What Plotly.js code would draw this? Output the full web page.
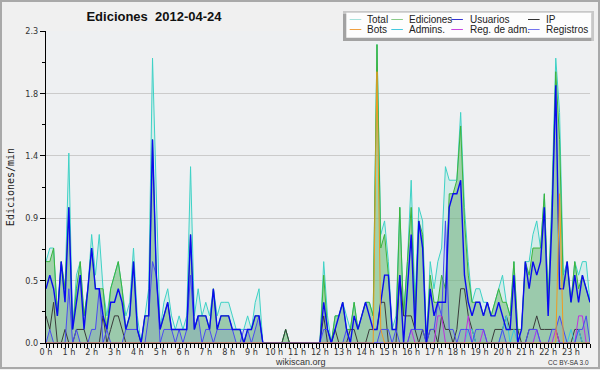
<!DOCTYPE html>
<html><head><meta charset="utf-8">
<script src="https://cdn.plot.ly/plotly-3.0.1.min.js"></script>
<style>
html,body{margin:0;padding:0;background:#f0f0f0}
#wrap{position:relative;width:600px;height:370px}
#chart{width:600px;height:370px}
#frame{position:absolute;left:0;top:0;width:600px;height:369px;box-sizing:border-box;border:2px solid #a9a9a9;pointer-events:none}
</style>
</head><body><div id="wrap"><div id="chart"></div><div id="frame"></div></div>
<script>
// Edits per minute, 10-minute bins, 2012-04-24 (144 bins)
const total = [
0.6,0.7,0.7,0.2,0.6,0.4,1.4,0.1,0.5,0.6,0.2,0.4,
0.8,0.5,0.8,0.4,0.2,0.4,0.5,0.6,0.4,0.2,0.3,0.7,
0.2,0,0.2,0.4,2.1,1.0,0.1,0.3,0.4,0.2,0.1,0.2,
0.1,0.2,1.3,0.2,0.4,0.2,0.3,0.2,0.4,0.2,0.3,0.3,
0.3,0.2,0.1,0.1,0.1,0.2,0.1,0.3,0.4,0,0,0,
0,0,0,0.1,0,0,0,0,0,0,0,0,
0,0.6,0.2,0,0.2,0.2,0.3,0.2,0.1,0.3,0.1,0.2,
0.3,0.3,0.2,2.2,0.8,0.9,0.6,0.1,0.2,1.0,0.2,0.6,
1.2,0.3,1.0,0.9,0,0.6,0.4,0.6,0.7,1.3,1.2,1.2,
1.2,1.7,1.0,0.6,0.3,0.4,0.4,0.3,0.3,0.2,0.3,0.4,
0.5,0.3,0.2,0.6,0.1,0.1,0.6,0.6,0.8,0.9,0.7,1.1,
0.3,1.1,2.1,1.7,0.5,0.6,0.3,0.6,0.5,0.6,0.6,0.3];
const ediciones = [
0.6,0.6,0.7,0.2,0.6,0.4,1.0,0.1,0.4,0.6,0.2,0.4,
0.7,0.4,0.4,0.4,0.1,0.4,0.5,0.6,0.4,0.1,0.2,0.6,
0.1,0,0.2,0.2,1.5,0.5,0.1,0.2,0.3,0.1,0.1,0.1,
0.1,0.1,0.8,0.1,0.2,0.2,0.2,0.1,0.4,0.1,0.2,0.2,
0.2,0.1,0.1,0.1,0,0.1,0.1,0.2,0.2,0,0,0,
0,0,0,0.1,0,0,0,0,0,0,0,0,
0,0.5,0.1,0,0.2,0.2,0.3,0.1,0.1,0.3,0.1,0.2,
0.3,0.3,0.2,2.2,0.7,0.8,0.5,0.1,0.1,1.0,0.2,0.6,
1.0,0.2,0.9,0.8,0,0.5,0.3,0.3,0.5,0.4,1.1,1.1,
1.2,1.6,0.9,0.5,0.3,0.3,0.3,0.2,0.3,0.2,0.3,0.4,
0.3,0.3,0.2,0.6,0.1,0.1,0.6,0.5,0.7,0.7,0.7,1.1,
0.3,1.0,2.0,1.5,0.4,0.6,0.3,0.6,0.4,0.5,0.4,0.3];
const usuarios = [
0.4,0.5,0.4,0.2,0.6,0.3,1.0,0.1,0.3,0.5,0.1,0.4,
0.7,0.4,0.4,0.2,0.1,0.3,0.3,0.4,0.3,0.1,0.2,0.6,
0.1,0,0.2,0.2,1.5,0.5,0.1,0.2,0.3,0.1,0.1,0.1,
0.1,0.1,0.8,0.1,0.2,0.2,0.2,0.1,0.4,0.1,0.2,0.2,
0.2,0.1,0.1,0.1,0,0.1,0.1,0.2,0.2,0,0,0,
0,0,0,0,0,0,0,0,0,0,0,0,
0,0.3,0.1,0,0.1,0.2,0.3,0.1,0,0.2,0.1,0.2,
0.3,0.2,0.1,0.1,0.3,0.5,0.5,0.1,0.1,0.5,0,0.4,
0.8,0.1,0.9,0.7,0,0.4,0.2,0.3,0.3,0.3,1.0,1.1,
1.1,1.2,0.5,0.3,0.2,0.3,0.3,0.2,0.3,0.2,0.2,0.3,
0.2,0.1,0.1,0.5,0,0.1,0.6,0.4,0.6,0.5,0.6,1.0,
0.2,0.9,1.9,0.4,0.4,0.6,0.3,0.5,0.3,0.5,0.4,0.3];
const ip = [
0.2,0.1,0.3,0,0,0.1,0,0,0.1,0.1,0.1,0,
0,0,0,0.2,0,0.1,0.2,0.2,0.1,0,0,0,
0,0,0,0,0,0,0,0,0,0,0,0,
0,0,0,0,0,0,0,0,0,0,0,0,
0,0,0,0,0,0,0,0,0,0,0,0,
0,0,0,0.1,0,0,0,0,0,0,0,0,
0,0.2,0,0,0.1,0,0,0,0.1,0.1,0,0,
0,0.1,0.1,0.1,0.3,0.3,0,0,0,0.5,0.2,0.2,
0.2,0.1,0,0.1,0,0.1,0.1,0,0.2,0.1,0.1,0,
0.1,0.4,0.4,0.2,0.1,0,0,0,0,0,0.1,0.1,
0.1,0.2,0.1,0.1,0.1,0,0,0.1,0.1,0.2,0.1,0.1,
0.1,0.1,0.1,0,0,0,0,0.1,0.1,0,0,0];
const bots = [
0,0,0,0,0,0,0,0,0,0,0,0,
0,0,0,0,0,0,0,0,0,0,0,0,
0,0,0,0,0,0,0,0,0,0,0,0,
0,0,0,0,0,0,0,0,0,0,0,0,
0,0,0,0,0,0,0,0,0,0,0,0,
0,0,0,0,0,0,0,0,0,0,0,0,
0,0,0,0,0,0,0,0,0,0,0,0,
0,0,0,2.0,0.1,0,0,0,0,0,0,0,
0,0,0,0,0,0,0,0,0,0,0,0,
0,0,0,0,0,0,0,0,0,0,0,0,
0,0,0,0,0,0,0,0,0,0,0,0,
0,0,0,1.1,0,0,0,0,0,0,0,0];
const admins = [
0,0,0,0,0,0,0,0,0,0,0,0,
0,0,0,0,0,0,0,0,0,0,0,0,
0,0,0,0,0,0,0,0,0,0,0,0,
0,0,0,0,0,0,0,0,0,0,0,0,
0,0,0,0,0,0,0,0,0,0,0,0,
0,0,0,0,0,0,0,0,0,0,0,0,
0,0,0,0,0,0,0,0,0,0,0,0,
0,0,0,0,0,0,0,0,0,0,0,0,
0,0,0,0,0,0,0,0,0,0,0,0,
0,0,0,0.1,0.1,0,0,0,0,0,0,0,
0.1,0.2,0,0.1,0,0,0,0,0,0.1,0,0,
0,0,0,0,0,0,0.1,0,0.1,0,0,0];
const regAdm = [
0,0,0,0,0,0,0,0,0,0,0,0,
0,0,0,0,0,0,0,0,0,0,0,0,
0,0,0,0,0,0,0,0,0,0,0,0,
0,0,0,0,0,0,0,0,0,0,0,0,
0,0,0,0,0,0,0,0,0,0,0,0,
0,0,0,0,0,0,0,0,0,0,0,0,
0,0,0,0,0,0,0,0,0,0,0,0,
0,0,0,0,0,0,0,0,0,0,0,0,
0.1,0,0,0,0,0,0,0.2,0.2,0,0,0,
0,0,0,0.2,0,0,0,0.1,0,0,0,0,
0,0,0,0,0,0,0,0,0,0.1,0,0,
0,0,0.1,0,0,0,0,0,0.2,0.2,0,0];
const registros = [
0,0.1,0,0,0,0,0.4,0,0.1,0,0,0,
0.1,0.1,0.4,0,0.1,0,0,0,0,0.1,0.1,0.1,
0.1,0,0,0.2,0.6,0.5,0,0.1,0.1,0.1,0,0.1,
0,0.1,0.5,0.1,0.2,0,0.1,0.1,0,0.1,0.1,0.1,
0.1,0.1,0,0,0.1,0.1,0,0.1,0.2,0,0,0,
0,0,0,0,0,0,0,0,0,0,0,0,
0,0.1,0.1,0,0,0,0,0.1,0,0,0,0,
0,0,0,0,0.1,0.1,0.1,0,0.1,0,0,0,
0.1,0.1,0.1,0.1,0,0.1,0.1,0.3,0.2,0.9,0.1,0.1,
0,0.1,0.1,0.1,0,0.1,0.1,0.1,0,0,0,0,
0.1,0,0,0,0,0,0,0.1,0.1,0.1,0,0,
0,0.1,0.1,0.2,0.1,0,0,0,0.1,0.1,0.2,0];

const hourLabels = ['0 h','1 h','2 h','3 h','4 h','5 h','6 h','7 h','8 h','9 h','10 h','11 h',
  '12 h','13 h','14 h','15 h','16 h','17 h','18 h','19 h','20 h','21 h','22 h','23 h'];
const yTickVals = [0, 0.46, 0.92, 1.38, 1.84, 2.3];
const yTickText = ['0.0','0.5','0.9','1.4','1.8','2.3'];
const yMinorVals = [0.23, 0.69, 1.15, 1.61, 2.07];
const legendNames = ['Total','Ediciones','Usuarios','IP','Bots','Admins.','Reg. de adm.','Registros'];
const legendColors = ['#a6e2dc','#8acb88','#3434d2','#333333','#f0a040','#44c8de','#c844e0','#7474ee'];

const day = '2012-04-24';
const pad = n => String(n).padStart(2,'0');
const times = total.map((_, i) => day + ' ' + pad(Math.floor(i/6)) + ':' + pad((i%6)*10));
const hourVals = hourLabels.map((_, h) => day + ' ' + pad(h) + ':00');

const W = 600, H = 370, M = {l:46, r:10, t:31, b:27};
const PW = W - M.l - M.r, PH = H - M.t - M.b;
const px = x => (x - M.l) / PW;
const py = y => (H - M.b - y) / PH;

function area(y, color, name){
  return {x: times, y: y, mode: 'none', fill: 'tozeroy', fillcolor: color, name: name, showlegend: false, hoverinfo: 'skip'};
}
function line(y, color, width, name){
  return {x: times, y: y, mode: 'lines', line: {color: color, width: width}, name: name, showlegend: false, hoverinfo: 'skip'};
}

const data = [
  area(total, 'rgba(160,228,218,0.32)', 'Total'),
  area(ediciones, 'rgba(84,172,76,0.40)', 'Ediciones'),
  area(registros, 'rgba(60,60,230,0.10)', 'Registros'),
  area(usuarios, 'rgba(30,30,220,0.04)', 'Usuarios'),
  line(total, '#3ed2c6', 1, 'Total'),
  line(ediciones, '#3cb43c', 1, 'Ediciones'),
  line(ip, '#3a3a3a', 1, 'IP'),
  line(admins, '#3cc6e0', 1, 'Admins.'),
  line(regAdm, '#c030e0', 1, 'Reg. de adm.'),
  line(registros, '#4a4af2', 1, 'Registros'),
  line(usuarios, '#0a0af0', 1.4, 'Usuarios'),
  line(bots, '#f09a20', 1, 'Bots')
];

// legend box (drawn as a framed panel)
const shapes = [
  {type:'rect', xref:'paper', yref:'paper', x0:px(343), x1:px(594), y0:py(41), y1:py(11), fillcolor:'#c8c8c8', line:{width:0}, layer:'above'},
  {type:'rect', xref:'paper', yref:'paper', x0:px(343), x1:px(591.3), y0:py(41), y1:py(14), fillcolor:'#a2a2a2', line:{width:0}, layer:'above'},
  {type:'rect', xref:'paper', yref:'paper', x0:px(346.3), x1:px(591.3), y0:py(37.7), y1:py(12.7), fillcolor:'#fdfdfd', line:{width:0}, layer:'above'}
];
const colSym = [349.7, 391.3, 451.3, 528];
const colTxt = [366, 407.5, 468.5, 544.5];
const rowY = [19.5, 29.5];
const annotations = [];
legendNames.forEach((name, k) => {
  const c = k % 4, r = Math.floor(k / 4);
  shapes.push({type:'line', xref:'paper', yref:'paper', x0:px(colSym[c]), x1:px(colSym[c] + 11.6), y0:py(rowY[r]), y1:py(rowY[r]),
    line:{color:legendColors[k], width:1}, layer:'above'});
  annotations.push({text:name, xref:'paper', yref:'paper', x:px(colTxt[c]), y:py(rowY[r]), xanchor:'left', yanchor:'middle',
    showarrow:false, borderpad:0, font:{family:'Liberation Sans, Arial, sans-serif', size:10, color:'#222'}});
});
annotations.push({text:'wikiscan.org', xref:'paper', yref:'paper', x:px(300.5), y:py(362), xanchor:'center', yanchor:'middle',
  showarrow:false, borderpad:0, font:{family:'Liberation Sans, Arial, sans-serif', size:9, color:'#333'}});
annotations.push({text:'CC BY-SA 3.0', xref:'paper', yref:'paper', x:px(590), y:py(362), xanchor:'right', yanchor:'middle',
  showarrow:false, borderpad:0, font:{family:'Liberation Sans, Arial, sans-serif', size:6.5, color:'#333'}});

const narrow = 'Liberation Sans Narrow, DejaVu Sans Condensed, Liberation Sans, sans-serif';
const layout = {
  width: W, height: H,
  margin: {l:M.l, r:M.r, t:M.t, b:M.b, pad:0},
  paper_bgcolor: '#f0f0f0', plot_bgcolor: '#eef0f2',
  font: {family:'Liberation Sans, Arial, sans-serif', size:10, color:'#333'},
  showlegend: false,
  title: {text:'Ediciones\u00a0 2012-04-24', font:{family:'Liberation Sans, Arial, sans-serif', size:13, weight:'bold', color:'#111'},
    x: 154/W, xref:'container', xanchor:'center', y: 1 - 16.2/H, yref:'container', yanchor:'middle'},
  xaxis: {type:'date', range:[times[0], times[times.length-1]], tickmode:'array', tickvals:hourVals, ticktext:hourLabels,
    ticks:'outside', ticklen:4, tickwidth:1, tickcolor:'#000', showline:true, linecolor:'#000', linewidth:1,
    ticklabelstandoff:-4,
    showgrid:false, zeroline:false, tickfont:{family:narrow, size:9, color:'#333'},
    minor:{tickmode:'array', tickvals:times, ticks:'outside', ticklen:4, tickwidth:1, tickcolor:'#000', showgrid:false}},
  yaxis: {range:[0, 2.3], tickmode:'array', tickvals:yTickVals, ticktext:yTickText,
    ticks:'outside', ticklen:5, tickwidth:1, tickcolor:'#000', showline:true, linecolor:'#000', linewidth:1,
    showgrid:true, gridcolor:'#cbcbcb', gridwidth:1, zeroline:false, tickfont:{family:narrow, size:9, color:'#333'},
    minor:{tickmode:'array', tickvals:yMinorVals, ticks:'outside', ticklen:3, tickwidth:1, tickcolor:'#000', showgrid:false},
    title:{text:'Ediciones/min', font:{family:'DejaVu Sans Mono, monospace', size:10, color:'#222'}, standoff:8}},
  shapes: shapes,
  annotations: annotations
};
Plotly.newPlot('chart', data, layout, {staticPlot:true, displayModeBar:false});
</script></body></html>
